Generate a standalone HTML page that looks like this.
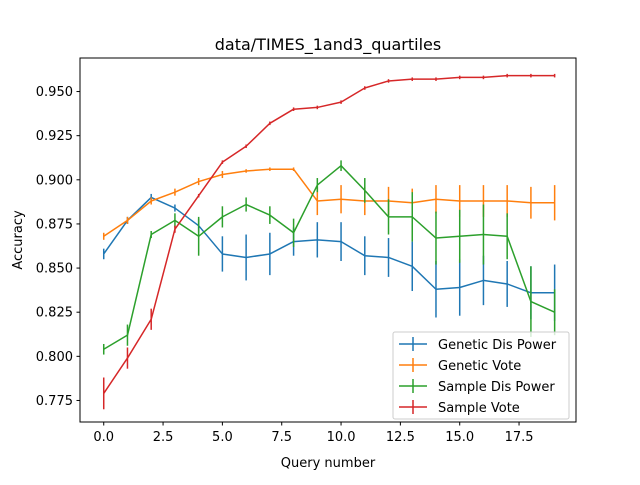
<!DOCTYPE html>
<html><head><meta charset="utf-8"><style>body{margin:0;background:#fff}svg{font-family:"DejaVu Sans","Liberation Sans",sans-serif}</style></head>
<body>
<svg id="chart" width="640" height="480" viewBox="0 0 640 480" xmlns="http://www.w3.org/2000/svg">
<rect width="640" height="480" fill="#fff"/>
<text x="328" y="50" text-anchor="middle" font-size="16">data/TIMES_1and3_quartiles</text>
<g id="plot"></g>
<rect x="80" y="58" width="496" height="364" fill="none" stroke="#000" stroke-width="1"/>
<text x="328" y="467" text-anchor="middle" font-size="13">Query number</text>
<text x="22" y="240" text-anchor="middle" font-size="13" transform="rotate(-90 22 240)">Accuracy</text>
</svg>
<script>
const categories=[0,1,2,3,4,5,6,7,8,9,10,11,12,13,14,15,16,17,18,19];
const xTicks=[0,2.5,5,7.5,10,12.5,15,17.5];
const xTickLabels=["0.0","2.5","5.0","7.5","10.0","12.5","15.0","17.5"];
const yTicks=[0.775,0.8,0.825,0.85,0.875,0.9,0.925,0.95];
const yTickLabels=["0.775","0.800","0.825","0.850","0.875","0.900","0.925","0.950"];
const seriesNames=["Genetic Dis Power","Genetic Vote","Sample Dis Power","Sample Vote"];
const seriesColors=["#1f77b4","#ff7f0e","#2ca02c","#d62728"];
const geneticDis=[0.858,0.877,0.890,0.884,0.874,0.858,0.856,0.858,0.865,0.866,0.865,0.857,0.856,0.851,0.838,0.839,0.843,0.841,0.836,0.836];
const geneticDisErr=[0.003,0.002,0.002,0.002,0.004,0.010,0.013,0.012,0.008,0.010,0.011,0.011,0.011,0.014,0.016,0.016,0.014,0.013,0.015,0.016];
const geneticVote=[0.868,0.877,0.888,0.893,0.899,0.903,0.905,0.906,0.906,0.888,0.889,0.888,0.888,0.887,0.889,0.888,0.888,0.888,0.887,0.887];
const geneticVoteErr=[0.002,0.002,0.002,0.002,0.002,0.002,0.001,0.001,0.001,0.008,0.008,0.008,0.008,0.008,0.008,0.009,0.009,0.009,0.009,0.010];
const sampleDis=[0.804,0.812,0.869,0.877,0.868,0.879,0.886,0.880,0.870,0.897,0.908,0.894,0.879,0.879,0.867,0.868,0.869,0.868,0.831,0.825];
const sampleDisErr=[0.003,0.006,0.002,0.004,0.011,0.006,0.004,0.005,0.008,0.004,0.003,0.007,0.010,0.014,0.015,0.015,0.017,0.013,0.020,0.013];
const sampleVote=[0.779,0.799,0.821,0.872,0.891,0.910,0.919,0.932,0.940,0.941,0.944,0.952,0.956,0.957,0.957,0.958,0.958,0.959,0.959,0.959];
const sampleVoteErr=[0.009,0.006,0.006,0.002,0.001,0.001,0.001,0.001,0.001,0.001,0.001,0.001,0.001,0.001,0.001,0.001,0.001,0.001,0.001,0.001];

const NS="http://www.w3.org/2000/svg";
const L=80,R=576,T=58,B=422;
const xMin=-1.0,xMax=19.9,yMin=0.7628,yMax=0.9690;
const xs=v=>L+(v-xMin)/(xMax-xMin)*(R-L);
const ys=v=>B-(v-yMin)/(yMax-yMin)*(B-T);
const g=document.getElementById('plot');
function mk(tag,at,parent){const e=document.createElementNS(NS,tag);for(const k in at)e.setAttribute(k,at[k]);(parent||g).appendChild(e);return e;}

xTicks.forEach((t,i)=>{
  const l=mk('line',{x1:xs(t),x2:xs(t),y1:B,y2:B+3.5,stroke:'#000'});
  
  
  const tx=mk('text',{x:xs(t),y:B+19,'text-anchor':'middle','font-size':13});
  tx.textContent=xTickLabels[i];
  
  
});
yTicks.forEach((t,i)=>{
  const l=mk('line',{x1:L-3.5,x2:L,y1:ys(t),y2:ys(t),stroke:'#000'});
  
  
  const tx=mk('text',{x:L-7,y:ys(t)+4.5,'text-anchor':'end','font-size':13});
  tx.textContent=yTickLabels[i];
  
  
});

const vals=[geneticDis,geneticVote,sampleDis,sampleVote];
const errs=[geneticDisErr,geneticVoteErr,sampleDisErr,sampleVoteErr];
const keys=["genetic-dis-power","genetic-vote","sample-dis-power","sample-vote"];
vals.forEach((v,s)=>{
  const grp=mk('g',{});
  
  
  const pts=categories.map((c,i)=>xs(c)+','+ys(v[i])).join(' ');
  const pl=mk('polyline',{points:pts,fill:'none',stroke:seriesColors[s],'stroke-width':1.5,'stroke-linejoin':'round'},grp);
  
  
  categories.forEach((c,i)=>{
    const e=mk('line',{x1:xs(c),x2:xs(c),y1:ys(v[i]-errs[s][i]),y2:ys(v[i]+errs[s][i]),stroke:seriesColors[s],'stroke-width':1.5},grp);
    
    
  });
});

const lg=mk('g',{},document.getElementById('chart'));


mk('rect',{x:393,y:332,width:176,height:87,rx:2,fill:'#fff','fill-opacity':0.8,stroke:'#ccc'},lg);
seriesNames.forEach((n,i)=>{
  const y=344+i*21;
  const e=mk('g',{},lg);
  
  
  mk('line',{x1:399,x2:427,y1:y,y2:y,stroke:seriesColors[i],'stroke-width':1.5},e);
  mk('line',{x1:413,x2:413,y1:y-7,y2:y+7,stroke:seriesColors[i],'stroke-width':1.5},e);
  const t=mk('text',{x:438,y:y+5,'font-size':13},e);
  t.textContent=n;
});
</script>
</body></html>
